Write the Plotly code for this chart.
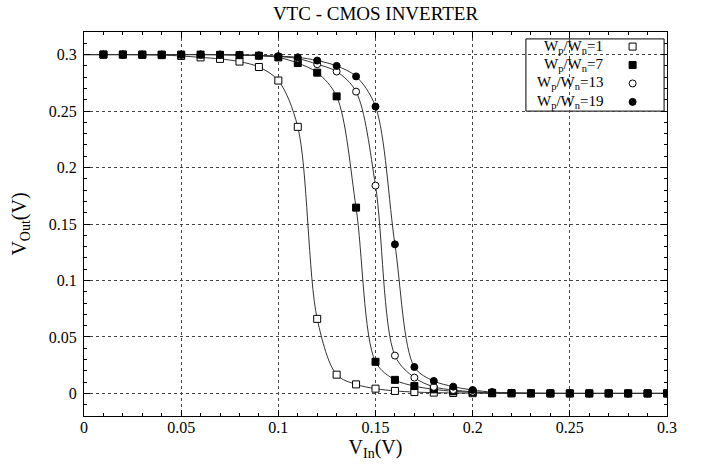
import plotly.graph_objects as go

# ---------------- data ----------------
v_in = [0.00, 0.01, 0.02, 0.03, 0.04, 0.05, 0.06, 0.07, 0.08, 0.09, 0.10,
        0.11, 0.12, 0.13, 0.14, 0.15, 0.16, 0.17, 0.18, 0.19, 0.20,
        0.21, 0.22, 0.23, 0.24, 0.25, 0.26, 0.27, 0.28, 0.29, 0.30]

vout_r1 = [0.300, 0.300, 0.300, 0.2998, 0.2995, 0.2988, 0.2975, 0.2962, 0.2938, 0.2890, 0.2770,
           0.2360, 0.0660, 0.0166, 0.0080, 0.0042, 0.0022, 0.0012, 0.0007, 0.0004, 0.0002,
           0.0001, 0.0001, 0.0, 0.0, 0.0, 0.0, 0.0, 0.0, 0.0, 0.0]
vout_r7 = [0.300, 0.300, 0.300, 0.300, 0.300, 0.300, 0.300, 0.2998, 0.2995, 0.2990, 0.2975,
           0.2925, 0.2840, 0.2630, 0.1645, 0.0280, 0.0120, 0.0065, 0.0036, 0.0019, 0.0010,
           0.0005, 0.0002, 0.0001, 0.0, 0.0, 0.0, 0.0, 0.0, 0.0, 0.0]
vout_r13 = [0.300, 0.300, 0.300, 0.300, 0.300, 0.300, 0.300, 0.2999, 0.2996, 0.2991, 0.2983,
            0.2965, 0.2915, 0.2850, 0.2672, 0.1840, 0.0335, 0.0140, 0.0058, 0.0030, 0.0015,
            0.0007, 0.0003, 0.0001, 0.0, 0.0, 0.0, 0.0, 0.0, 0.0, 0.0]
vout_r19 = [0.300, 0.300, 0.300, 0.300, 0.300, 0.300, 0.300, 0.300, 0.2998, 0.2993, 0.2986,
            0.2976, 0.2947, 0.2900, 0.2807, 0.2540, 0.1320, 0.0234, 0.0110, 0.0060, 0.0030,
            0.0012, 0.0005, 0.0002, 0.0001, 0.0, 0.0, 0.0, 0.0, 0.0, 0.0]

series_names = ["W<sub>p</sub>/W<sub>n</sub>=1", "W<sub>p</sub>/W<sub>n</sub>=7",
                "W<sub>p</sub>/W<sub>n</sub>=13", "W<sub>p</sub>/W<sub>n</sub>=19"]
series_values = [vout_r1, vout_r7, vout_r13, vout_r19]

x_tick_vals = [0, 0.05, 0.1, 0.15, 0.2, 0.25, 0.3]
x_tick_text = ["0", "0.05", "0.1", "0.15", "0.2", "0.25", "0.3"]
y_tick_vals = [0, 0.05, 0.1, 0.15, 0.2, 0.25, 0.3]
y_tick_text = ["0", "0.05", "0.1", "0.15", "0.2", "0.25", "0.3"]

title_text = "VTC - CMOS INVERTER"
x_title = "V<sub>In</sub>(V)"
y_title = "V<sub>Out</sub>(V)"

# ---------------- styles ----------------
FONT = "Liberation Serif"
marker_styles = [
    dict(symbol="square", size=7, color="white", line=dict(color="black", width=1)),
    dict(symbol="square", size=7, color="black", line=dict(color="black", width=1)),
    dict(symbol="circle", size=7, color="white", line=dict(color="black", width=1)),
    dict(symbol="circle", size=7, color="black", line=dict(color="black", width=1)),
]

fig = go.Figure()

# curves
for vals in series_values:
    fig.add_trace(go.Scatter(x=v_in, y=vals, mode="lines",
                             line=dict(color="#333333", width=1, shape="spline", smoothing=0.9),
                             showlegend=False, hoverinfo="skip"))
# markers (sampled every 0.01 V starting at 0.01)
for vals, ms, name in zip(series_values, marker_styles, series_names):
    fig.add_trace(go.Scatter(x=v_in[1:], y=vals[1:], mode="markers", marker=ms,
                             name=name, showlegend=False))

# ---------------- custom key (text left, symbol right) ----------------
key_x_sym = 0.941
key_x_txt = 0.894
key_rows = [0.962, 0.914, 0.866, 0.818]
for ms, name, ky in zip(marker_styles, series_names, key_rows):
    fig.add_trace(go.Scatter(x=[key_x_sym], y=[ky], xaxis="x2", yaxis="y2",
                             mode="markers", marker=ms, showlegend=False, hoverinfo="skip"))
    fig.add_annotation(x=key_x_txt, y=ky, xref="paper", yref="paper", text=name,
                       showarrow=False, xanchor="right", yanchor="middle",
                       font=dict(family=FONT, size=15, color="black"))
fig.add_shape(type="rect", xref="paper", yref="paper", x0=0.758, x1=0.995, y0=0.794, y1=0.982,
              line=dict(color="black", width=1), fillcolor="white", layer="below")

axis_common = dict(
    showline=True, linecolor="black", linewidth=1, mirror="ticks",
    ticks="inside", ticklen=6, tickcolor="black", tickwidth=1,
    showgrid=True, gridcolor="#444444", gridwidth=1, griddash="dot",
    zeroline=False, automargin=False,
    tickfont=dict(family=FONT, size=16, color="black"),
)

fig.update_layout(
    width=702, height=464,
    margin=dict(l=84, r=35, t=32, b=48, autoexpand=False),
    paper_bgcolor="white", plot_bgcolor="white",
    title=dict(text=title_text, x=0.5, xref="paper", y=0.972, yanchor="middle", automargin=False,
               font=dict(family=FONT, size=19, color="black")),
    xaxis=dict(range=[0, 0.3], tickvals=x_tick_vals, ticktext=x_tick_text,
               ticklabelstandoff=-3,
               minor=dict(dtick=0.01, tick0=0, ticks="inside", ticklen=3, tickcolor="black", showgrid=False),
               title=dict(text=x_title, font=dict(family=FONT, size=20, color="black"), standoff=3),
               **axis_common),
    yaxis=dict(range=[-0.02, 0.32], tickvals=y_tick_vals, ticktext=y_tick_text,
               ticklabelstandoff=3,
               minor=dict(dtick=0.01, tick0=0, ticks="inside", ticklen=3, tickcolor="black", showgrid=False),
               title=dict(text=y_title, font=dict(family=FONT, size=20, color="black"), standoff=16),
               **axis_common),
    xaxis2=dict(overlaying="x", range=[0, 1], visible=False, fixedrange=True),
    yaxis2=dict(overlaying="y", range=[0, 1], visible=False, fixedrange=True),
    font=dict(family=FONT, color="black"),
)

# remove the default 8px page margin so the figure fills the window exactly
fig.write_html("out.html", config={"displayModeBar": False},
               post_script="document.body.style.margin='0';")
